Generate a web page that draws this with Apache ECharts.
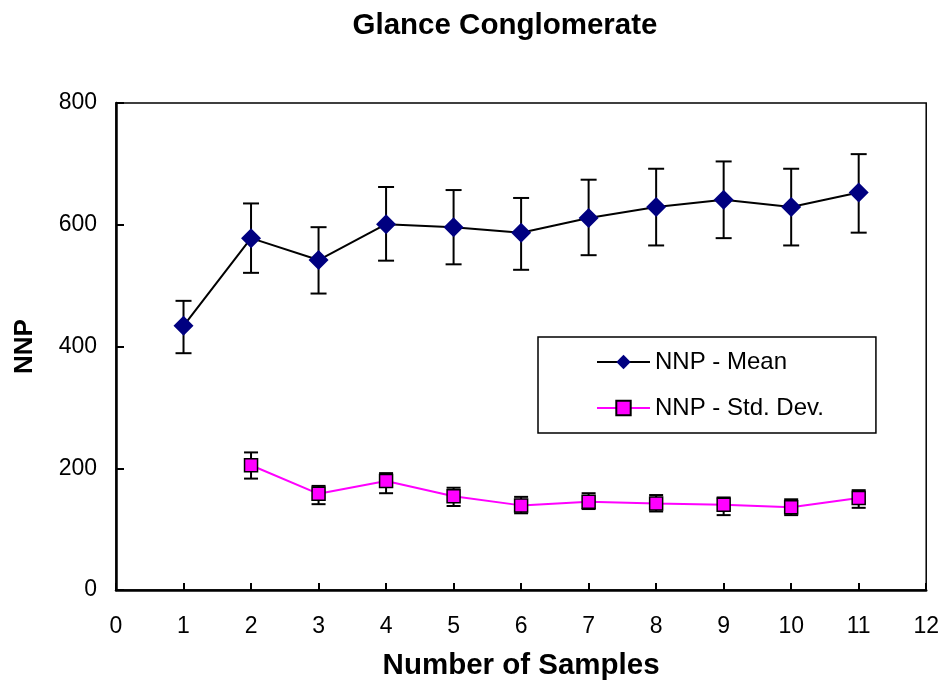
<!DOCTYPE html>
<html><head><meta charset="utf-8">
<script src="https://cdn.jsdelivr.net/npm/echarts@6/dist/echarts.min.js"></script>
<style>html,body{margin:0;padding:0;background:#fff}#c{width:942px;height:692px}</style>
</head><body><div id="c"></div>
<script>
const meanX = [1,2,3,4,5,6,7,8,9,10,11];
const meanY = [434,578,542,601,596,587,611,629,641,629,653];
const meanLow = [389,521,487,541,535,526,550,566,578,566,587];
const meanHigh = [475,635,596,662,657,644,674,692,704,692,716];
const sdX = [2,3,4,5,6,7,8,9,10,11];
const sdY = [205,158,179,154,139,145,142,140,136,151];
const sdLow = [183,141,159,138,126,133,129,123,123,135];
const sdHigh = [226,171,192,168,153,159,156,152,149,164];
const xTicks = [0,1,2,3,4,5,6,7,8,9,10,11,12];
const yTicks = [0,200,400,600,800];

const font = 'Arial, "Liberation Sans", sans-serif';
function errSeries(xs, lo, hi, cap){
  return {
    type:'custom', z:1, silent:true,
    data: xs.map((x,i)=>[x, lo[i], hi[i]]),
    renderItem(params, api){
      const x = api.value(0);
      const p1 = api.coord([x, api.value(1)]);
      const p2 = api.coord([x, api.value(2)]);
      const st = {stroke:'#000', lineWidth:2};
      return {type:'group', children:[
        {type:'line', shape:{x1:p1[0],y1:p1[1],x2:p2[0],y2:p2[1]}, style:st},
        {type:'line', shape:{x1:p1[0]-cap,y1:p1[1],x2:p1[0]+cap,y2:p1[1]}, style:st},
        {type:'line', shape:{x1:p2[0]-cap,y1:p2[1],x2:p2[0]+cap,y2:p2[1]}, style:st}
      ]};
    }
  };
}
const chart = echarts.init(document.getElementById('c'));
chart.setOption({
  animation:false,
  backgroundColor:'#fff',
  title:{text:'Glance Conglomerate', left:500, top:6, textAlign:'center',
    textStyle:{fontFamily:font, fontWeight:'bold', fontSize:29.5, color:'#000'}},
  grid:{left:116, right:15, top:103, bottom:102, show:true, borderColor:'#000', borderWidth:1.5},
  legend:{orient:'vertical', left:538, top:337, padding:[13,52,13,58],
    borderColor:'#000', borderWidth:1.5, itemWidth:53, itemHeight:18, itemGap:22,
    textStyle:{fontFamily:font, fontSize:24, color:'#000'},
    data:['NNP - Mean','NNP - Std. Dev.']},
  xAxis:{type:'value', min:0, max:12, interval:1,
    name:'Number of Samples', nameLocation:'middle', nameGap:61,
    nameTextStyle:{fontFamily:font, fontWeight:'bold', fontSize:29.5, color:'#000'},
    axisLine:{lineStyle:{color:'#000', width:2.5}},
    axisTick:{inside:true, length:7, lineStyle:{color:'#000', width:2}},
    axisLabel:{fontFamily:font, fontSize:23, color:'#000', margin:25,
      formatter:v=>xTicks.includes(v)?String(v):''},
    splitLine:{show:false}},
  yAxis:{type:'value', min:0, max:800, interval:200,
    name:'NNP', nameLocation:'middle', nameGap:78,
    nameTextStyle:{fontFamily:font, fontWeight:'bold', fontSize:26, color:'#000'},
    axisLine:{lineStyle:{color:'#000', width:2.5}},
    axisTick:{inside:true, length:8, lineStyle:{color:'#000', width:2}},
    axisLabel:{fontFamily:font, fontSize:23, color:'#000', margin:19,
      formatter:v=>yTicks.includes(v)?String(v):''},
    splitLine:{show:false}},
  series:[
    errSeries(meanX, meanLow, meanHigh, 8),
    errSeries(sdX, sdLow, sdHigh, 7),
    {name:'NNP - Mean', type:'line', z:3, data:meanX.map((x,i)=>[x,meanY[i]]),
      symbol:'diamond', symbolSize:[20,20],
      lineStyle:{color:'#000', width:2},
      itemStyle:{color:'#000080', borderWidth:0}},
    {name:'NNP - Std. Dev.', type:'line', z:3, data:sdX.map((x,i)=>[x,sdY[i]]),
      symbol:'rect', symbolSize:13,
      lineStyle:{color:'#FF00FF', width:2},
      itemStyle:{color:'#FF00FF', borderColor:'#000', borderWidth:1.5}}
  ]
});
</script></body></html>
